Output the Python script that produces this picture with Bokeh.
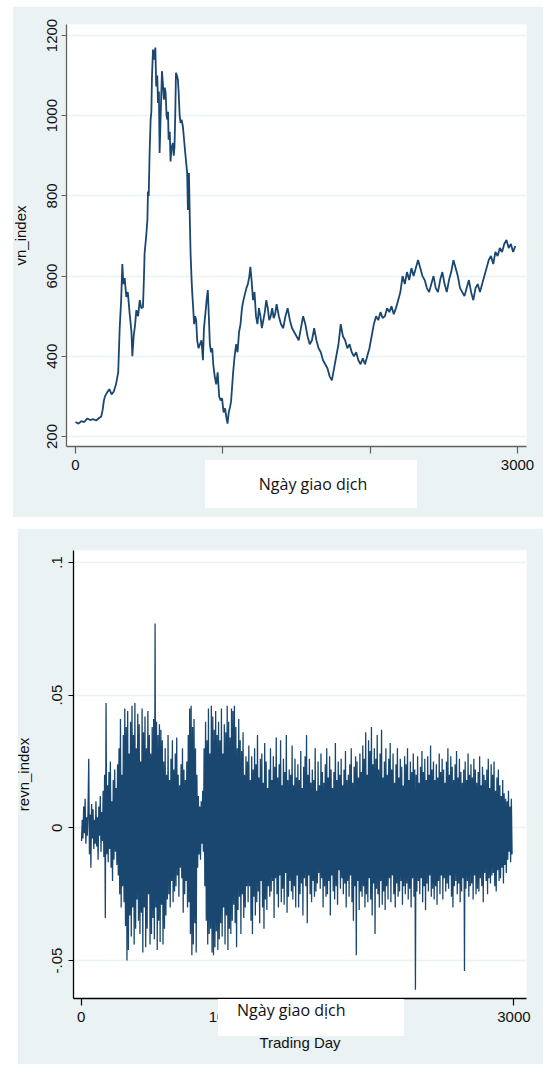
from bokeh.plotting import figure
from bokeh.layouts import column
from bokeh.models import FixedTicker, Range1d, Div
from bokeh.embed import file_html
from bokeh.resources import INLINE

# ---------------- data ----------------
vn_days = [0, 20, 40, 60, 80, 100, 120, 140, 160, 175, 185, 193, 200, 215, 230, 245, 260, 275, 290, 300, 310, 318,
           325, 334, 345, 355, 368, 380, 386, 395, 405, 413, 425, 436, 447, 458, 465, 469, 480, 488, 492, 497,
           503, 510, 515, 519, 526, 533, 542, 548, 555, 560, 566, 571, 578, 587, 593, 600, 606, 612, 618, 623,
           628, 632, 640, 645, 652, 661, 667, 672, 677, 682, 688, 695, 700, 707, 713, 720, 729, 737, 745, 752,
           758, 763, 767, 770, 775, 781, 787, 792, 797, 805, 812, 819, 826, 835, 845, 855, 865, 872, 880, 890,
           898, 905, 912, 920, 928, 935, 945, 955, 965, 975, 985, 995, 1005, 1015, 1025, 1032, 1040, 1050, 1056, 1070,
           1080, 1090, 1100, 1110, 1120, 1130, 1140, 1150, 1160, 1170, 1180, 1187, 1195, 1205, 1215, 1225, 1235, 1245, 1255, 1265,
           1275, 1285, 1295, 1305, 1315, 1325, 1335, 1345, 1355, 1365, 1380, 1395, 1410, 1425, 1440, 1455, 1470, 1485, 1500, 1515,
           1530, 1545, 1560, 1575, 1590, 1605, 1620, 1635, 1650, 1665, 1680, 1695, 1710, 1725, 1740, 1755, 1770, 1785, 1800, 1815,
           1830, 1845, 1860, 1875, 1890, 1905, 1920, 1935, 1950, 1965, 1980, 1995, 2010, 2025, 2040, 2055, 2070, 2085, 2100, 2115,
           2130, 2145, 2160, 2175, 2190, 2205, 2220, 2235, 2250, 2265, 2280, 2295, 2310, 2325, 2340, 2355, 2370, 2385, 2400, 2415,
           2430, 2445, 2460, 2475, 2490, 2505, 2520, 2535, 2550, 2565, 2580, 2595, 2610, 2625, 2640, 2655, 2670, 2685, 2700, 2715,
           2730, 2745, 2760, 2775, 2790, 2805, 2820, 2835, 2850, 2865, 2880, 2895, 2910, 2925, 2940, 2955, 2970, 2985]
vn_values = [236, 232, 238, 236, 245, 241, 243, 240, 246, 250, 268, 290, 300, 310, 318, 305, 312, 330, 360, 470, 540, 630,
             580, 595, 548, 560, 505, 460, 400, 450, 480, 515, 500, 540, 520, 523, 600, 657, 700, 740, 811, 800,
             907, 990, 1010, 1095, 1165, 1140, 1170, 1073, 1100, 1032, 1060, 907, 1000, 1111, 1080, 1040, 1070, 1057, 1000, 990,
             1010, 940, 960, 886, 920, 932, 900, 923, 1000, 1107, 1100, 1090, 1060, 1000, 982, 990, 973, 940, 907, 880,
             857, 765, 840, 857, 760, 657, 600, 560, 532, 480, 500, 490, 440, 420, 430, 440, 390, 470, 500, 540,
             565, 500, 430, 410, 420, 380, 350, 330, 360, 300, 290, 295, 260, 270, 245, 232, 260, 275, 288, 360,
             400, 430, 410, 460, 480, 520, 540, 555, 570, 580, 600, 623, 590, 540, 560, 500, 480, 520, 500, 470,
             490, 510, 540, 520, 490, 500, 520, 495, 505, 530, 500, 480, 470, 500, 520, 490, 470, 460, 450, 440,
             470, 500, 480, 450, 430, 440, 470, 440, 420, 410, 390, 380, 370, 350, 340, 370, 400, 430, 480, 450,
             440, 420, 430, 410, 400, 410, 390, 380, 395, 380, 400, 420, 450, 480, 500, 490, 510, 495, 500, 520,
             510, 525, 505, 520, 540, 560, 600, 580, 610, 590, 620, 600, 620, 640, 620, 600, 590, 570, 560, 580,
             600, 570, 560, 590, 610, 580, 560, 590, 610, 640, 620, 600, 570, 560, 550, 570, 590, 560, 540, 570,
             580, 560, 580, 600, 620, 640, 650, 630, 660, 650, 670, 660, 680, 690, 670, 680, 660, 675]

# daily return, in thousandths, one value every 5 trading days
revn_milli = [
    -5, 3, -4, 8, -2, 11, -6, 4, -3, 6,
    26, -10, 5, -15, 9, -4, 7, -8, 3, -6,
    10, -7, 4, -12, 8, -3, 12, -9, 6, -5,
    14, -11, 20, -34, 47, -10, 16, -13, 21, -8,
    25, -15, 10, -20, 18, -12, 22, -9, 15, -14,
    24, -18, 30, -25, 41, -30, 20, -22, 35, -28,
    45, -37, 38, -50, 44, -46, 28, -33, 40, -41,
    46, -30, 35, -44, 47, -38, 30, -27, 43, -35,
    39, -40, 25, -32, 45, -47, 36, -30, 42, -45,
    30, -38, 44, -25, 35, -44, 28, -40, 38, -34,
    41, -42, 77, -30, 40, -46, 35, -35, 39, -43,
    37, -29, 33, -44, 25, -38, 30, -33, 20, -27,
    35, -25, 18, -30, 26, -20, 33, -28, 22, -24,
    28, -22, 34, -18, 20, -26, 16, -15, 24, -19,
    30, -32, 22, -25, 18, -20, 25, -30, 35, -28,
    45, -40, 46, -48, 38, -44, 41, -36, 30, -47,
    20, -15, 12, -10, 8, -12, 10, -6, 14, -9,
    30, -22, 40, -35, 33, -44, 45, -40, 28, -38,
    46, -47, 42, -48, 37, -45, 44, -39, 35, -46,
    40, -42, 33, -36, 45, -41, 28, -30, 39, -44,
    36, -33, 46, -46, 40, -38, 34, -40, 45, -35,
    44, -29, 46, -36, 38, -45, 30, -31, 41, -26,
    33, -40, 29, -25, 36, -34, 20, -30, 27, -22,
    25, -28, 31, -22, 18, -35, 27, -40, 22, -26,
    30, -33, 24, -28, 35, -24, 19, -36, 26, -20,
    28, -30, 17, -38, 32, -27, 25, -31, 15, -22,
    22, -26, 30, -24, 18, -20, 27, -34, 23, -19,
    34, -25, 19, -30, 24, -18, 33, -28, 16, -23,
    26, -29, 21, -17, 35, -32, 18, -26, 22, -20,
    20, -24, 31, -27, 16, -22, 26, -30, 19, -18,
    24, -30, 18, -25, 29, -21, 15, -33, 23, -19,
    27, -22, 35, -36, 20, -18, 26, -25, 17, -28,
    22, -20, 18, -26, 30, -24, 14, -21, 25, -17,
    16, -23, 28, -19, 21, -30, 17, -22, 24, -26,
    30, -25, 19, -20, 27, -33, 22, -18, 15, -24,
    21, -27, 32, -22, 18, -29, 25, -16, 20, -23,
    26, -19, 16, -25, 22, -21, 29, -30, 18, -20,
    20, -26, 24, -18, 30, -28, 17, -35, 23, -22,
    27, -48, 25, -20, 19, -31, 28, -24, 21, -26,
    31, -22, 26, -30, 36, -25, 20, -28, 33, -19,
    29, -27, 38, -33, 24, -21, 30, -40, 26, -23,
    35, -25, 22, -30, 28, -20, 37, -29, 19, -24,
    25, -31, 30, -22, 20, -27, 26, -19, 32, -28,
    22, -18, 28, -25, 17, -30, 24, -21, 30, -26,
    19, -24, 26, -20, 23, -29, 16, -22, 27, -25,
    24, -21, 30, -27, 18, -23, 25, -30, 21, -19,
    28, -26, 22, -61, 20, -24, 27, -20, 17, -25,
    23, -19, 29, -28, 21, -22, 26, -31, 18, -21,
    27, -24, 20, -18, 31, -26, 22, -23, 25, -27,
    18, -22, 24, -29, 19, -20, 28, -25, 21, -18,
    26, -27, 22, -19, 17, -24, 25, -21, 30, -23,
    20, -18, 27, -26, 23, -30, 18, -22, 24, -20,
    29, -25, 19, -21, 26, -28, 21, -24, 17, -19,
    22, -54, 25, -23, 18, -20, 28, -26, 20, -22,
    24, -21, 19, -27, 26, -18, 22, -25, 17, -23,
    21, -24, 27, -19, 16, -22, 23, -28, 20, -17,
    18, -20, 22, -25, 26, -19, 15, -21, 24, -18,
    20, -17, 25, -22, 14, -24, 19, -16, 22, -20,
    16, -19, 12, -15, 18, -21, 13, -14, 11, -17,
    10, -12, 14, -9, 8, -13, 11, -10,
]
revn_step = 5

x_ticks = [0, 1000, 2000, 3000]
vn_ticks = [200, 400, 600, 800, 1000, 1200]
revn_ticks = [-0.05, 0, 0.05, 0.1]
revn_tick_labels = {-0.05: "-.05", 0: "0", 0.05: ".05", 0.1: ".1"}
box_title = "Ngày giao dịch"

# ---------------- style ----------------
FRAME = "#eaf2f3"
NAVY = "#1a476f"
GRID = "#eaf2f3"
NUM_FONT = "Arial, Liberation Sans, sans-serif"
NARROW = "Arial Narrow, Liberation Sans Narrow, Arial, sans-serif"


def style(p, axis_color):
    p.xgrid.grid_line_color = None
    p.ygrid.grid_line_color = GRID
    p.ygrid.grid_line_width = 1.5
    for ax in (p.xaxis[0], p.yaxis[0]):
        ax.axis_line_color = axis_color
        ax.axis_line_width = 1.3
        ax.major_tick_line_color = axis_color
        ax.major_tick_line_width = 1.2
        ax.major_tick_in = 0
        ax.minor_tick_line_color = None
        ax.major_label_text_color = "#111111"
        ax.axis_label_text_color = "#111111"
        ax.axis_label_text_font_style = "normal"
    p.xaxis.major_label_text_font = NARROW
    p.xaxis.major_label_text_font_size = "15px"
    p.xaxis.major_tick_out = 7
    p.yaxis.major_label_text_font = NUM_FONT
    p.yaxis.major_label_text_font_size = "15px"
    p.yaxis.major_label_orientation = "vertical"
    p.yaxis.major_tick_out = 5
    p.yaxis.axis_label_text_font = NUM_FONT
    p.yaxis.axis_label_text_font_size = "15px"


def white_box(w, h, ml, mt, pad_left, line_h, align):
    html = ('<div style="box-sizing:border-box;width:%dpx;height:%dpx;background:#ffffff;'
            'padding-left:%dpx;line-height:%dpx;text-align:%s;white-space:nowrap;'
            'font-family:\'Open Sans\';font-size:16px;color:#111111;">%s</div>'
            % (w, h, pad_left, line_h, align, box_title))
    return Div(text=html, width=w, height=h, margin=(mt, 0, 0, ml),
               styles={"position": "relative", "z-index": "10"})


def white_strip(w, h, ml):
    # page-white strip left of the light frame
    html = '<div style="width:%dpx;height:%dpx;background:#ffffff;"></div>' % (w, h)
    return Div(text=html, width=w, height=h, margin=(-h, 0, 0, ml),
               styles={"position": "relative", "z-index": "5"})


# ---------------- top panel ----------------
p1 = figure(width=539, height=511, output_backend="svg", toolbar_location=None,
            x_range=Range1d(-61, 3061), y_range=Range1d(175, 1227.4),
            min_border_left=61, min_border_right=17, min_border_top=18, min_border_bottom=71,
            background_fill_color="white", border_fill_color=FRAME, outline_line_color=None)
p1.margin = (6, 0, 0, 4)
p1.line(vn_days, vn_values, line_color=NAVY, line_width=1.8)
style(p1, "#606060")
p1.xaxis.ticker = FixedTicker(ticks=x_ticks)
p1.yaxis.ticker = FixedTicker(ticks=vn_ticks)
p1.xaxis.major_label_standoff = 6
p1.yaxis.major_label_standoff = 4
p1.yaxis.axis_label = "vn_index"
p1.yaxis.axis_label_standoff = 16

# ---------------- bottom panel ----------------
revn_values = [v / 1000 for v in revn_milli]
revn_days = [2 + i * revn_step for i in range(len(revn_values))]

p2 = figure(width=532, height=536, output_backend="svg", toolbar_location=None,
            x_range=Range1d(-53.6, 3087), y_range=Range1d(-0.06432, 0.10452),
            min_border_left=60, min_border_right=3, min_border_top=22, min_border_bottom=66,
            background_fill_color="white", border_fill_color=FRAME, outline_line_color=None)
p2.margin = (20, 0, 0, 11)
p2.line(revn_days, revn_values, line_color=NAVY, line_width=1.3)
style(p2, "#000000")
p2.xaxis.ticker = FixedTicker(ticks=x_ticks)
p2.yaxis.ticker = FixedTicker(ticks=revn_ticks)
p2.yaxis.major_label_overrides = revn_tick_labels
p2.xaxis.major_label_standoff = 6
p2.yaxis.major_label_standoff = 6
p2.yaxis.axis_label = "revn_index"
p2.yaxis.axis_label_standoff = 18
p2.xaxis.axis_label = "Trading Day"
p2.xaxis.axis_label_text_font = NARROW
p2.xaxis.axis_label_text_font_size = "15px"
p2.xaxis.axis_label_standoff = 9

strip1 = white_strip(9, 511, 4)
box1 = white_box(212, 48, 205, -57, 4, 48, "center")
strip2 = white_strip(7, 536, 11)
box2 = white_box(186, 37, 218, -65, 19, 22, "left")

layout = column(p1, strip1, box1, p2, strip2, box2)
open("out.html", "w").write(file_html(layout, INLINE))
